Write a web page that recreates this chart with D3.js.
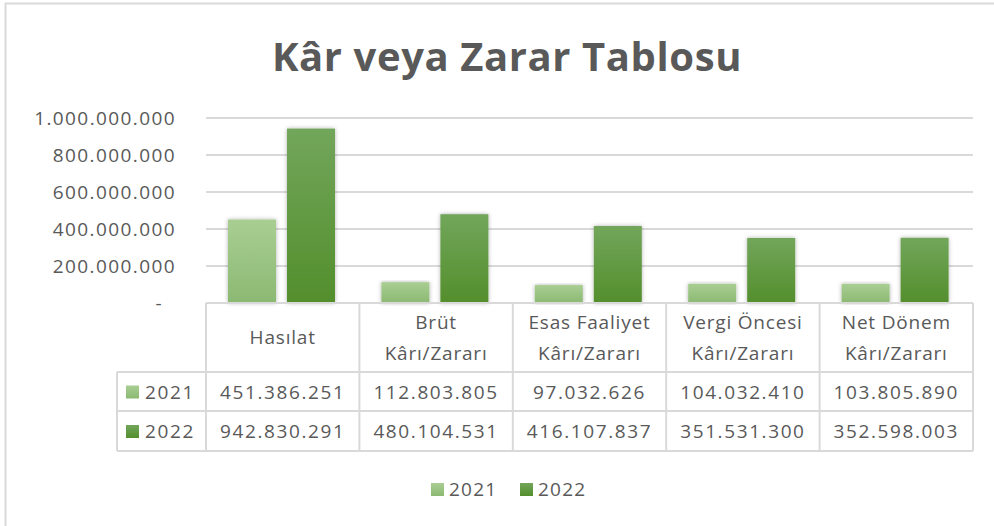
<!DOCTYPE html>
<html>
<head>
<meta charset="utf-8">
<script src="https://cdnjs.cloudflare.com/ajax/libs/d3/7.8.5/d3.min.js"></script>
<style>
  body { margin: 0; background: #fff; }
  text { font-family: "Open Sans", sans-serif; fill: #595959; }
</style>
</head>
<body>
<script>
// chart data
var categories = [["Hasılat"], ["Brüt", "Kârı/Zararı"], ["Esas Faaliyet", "Kârı/Zararı"],
                  ["Vergi Öncesi", "Kârı/Zararı"], ["Net Dönem", "Kârı/Zararı"]];
var years = ["2021", "2022"];
var values2021 = [451386251, 112803805, 97032626, 104032410, 103805890];
var values2022 = [942830291, 480104531, 416107837, 351531300, 352598003];
var yTicks = [0, 200000000, 400000000, 600000000, 800000000, 1000000000];

var w = 994, h = 526;
var plotLeft = 206, plotRight = 973, plotTop = 118, zero = 303;
var tableLeft = 117;
var rowY = [303, 372, 411, 451];

var svg = d3.select("body").append("svg")
  .attr("width", w)
  .attr("height", h);

var defs = svg.append("defs");
var g1 = defs.append("linearGradient").attr("id", "g2021").attr("x1", 0).attr("x2", 0).attr("y1", 0).attr("y2", 1);
g1.append("stop").attr("offset", "0%").attr("stop-color", "#a9ce93");
g1.append("stop").attr("offset", "100%").attr("stop-color", "#8bb972");
var g2 = defs.append("linearGradient").attr("id", "g2022").attr("x1", 0).attr("x2", 0).attr("y1", 0).attr("y2", 1);
g2.append("stop").attr("offset", "0%").attr("stop-color", "#72a65b");
g2.append("stop").attr("offset", "100%").attr("stop-color", "#538e2c");
var shadow = defs.append("filter").attr("id", "shadow").attr("x", "-20%").attr("y", "-10%").attr("width", "140%").attr("height", "120%");
shadow.append("feDropShadow").attr("dx", 0).attr("dy", 0).attr("stdDeviation", 2)
  .attr("flood-color", "#000").attr("flood-opacity", 0.3);

// outer frame
svg.append("line").attr("x1", 5).attr("x2", w).attr("y1", 3.5).attr("y2", 3.5)
  .attr("stroke", "#d9d9d9").attr("stroke-width", 2);
svg.append("line").attr("x1", 5.5).attr("x2", 5.5).attr("y1", 3).attr("y2", h)
  .attr("stroke", "#d9d9d9").attr("stroke-width", 2);

svg.append("text")
  .attr("x", 507)
  .attr("y", 71)
  .attr("text-anchor", "middle")
  .attr("font-size", "40px")
  .attr("font-weight", "bold")
  .style("letter-spacing", "0.6px")
  .text("Kâr veya Zarar Tablosu");

var xScale = d3.scaleBand()
  .domain(d3.range(categories.length))
  .range([plotLeft, plotRight]);

var yScale = d3.scaleLinear()
  .domain([0, 1000000000])
  .range([zero, plotTop]);

var fmt = function(v) {
  return d3.format(",")(v).replace(/,/g, ".");
};

// gridlines
svg.selectAll("line.grid")
  .data(yTicks.slice(1))
  .enter()
  .append("line")
  .attr("class", "grid")
  .attr("x1", plotLeft)
  .attr("x2", plotRight)
  .attr("y1", function(d) { return yScale(d); })
  .attr("y2", function(d) { return yScale(d); })
  .attr("stroke", "#d9d9d9")
  .attr("stroke-width", 2);

svg.selectAll("text.ytick")
  .data(yTicks)
  .enter()
  .append("text")
  .attr("class", "ytick")
  .attr("x", function(d) { return d == 0 ? 163 : 176; })
  .attr("y", function(d) { return yScale(d) + 7; })
  .attr("text-anchor", "end")
  .attr("font-size", "19px")
  .style("letter-spacing", "1.4px")
  .text(function(d) { return d == 0 ? "-" : fmt(d); });

// bars
var series = [values2021, values2022];
var barW = 48, barGap = 11, barOff = 22;
series.forEach(function(vals, s) {
  svg.selectAll("rect.s" + s)
    .data(vals)
    .enter()
    .append("rect")
    .attr("class", "s" + s)
    .attr("x", function(d, i) { return xScale(i) + barOff + s * (barW + barGap); })
    .attr("y", function(d) { return yScale(d); })
    .attr("width", barW)
    .attr("height", function(d) { return zero - yScale(d); })
    .attr("fill", "url(#g" + years[s] + ")")
    .attr("filter", "url(#shadow)");
});

// data table
var tbl = svg.append("g")
  .attr("stroke", "#d9d9d9")
  .attr("stroke-width", 2)
  .attr("fill", "none");
tbl.append("line").attr("x1", plotLeft).attr("x2", plotRight).attr("y1", rowY[0]).attr("y2", rowY[0]);
for (var r = 1; r < rowY.length; r++) {
  tbl.append("line").attr("x1", tableLeft).attr("x2", plotRight).attr("y1", rowY[r]).attr("y2", rowY[r]);
}
tbl.append("line").attr("x1", tableLeft).attr("x2", tableLeft).attr("y1", rowY[1]).attr("y2", rowY[3]);
for (var c = 0; c <= categories.length; c++) {
  var cx = c < categories.length ? xScale(c) : plotRight;
  tbl.append("line").attr("x1", cx).attr("x2", cx).attr("y1", rowY[0]).attr("y2", rowY[3]);
}

categories.forEach(function(lines, i) {
  var cx = xScale(i) + xScale.bandwidth() / 2;
  var t = svg.append("text")
    .attr("x", cx)
    .attr("text-anchor", "middle")
    .attr("font-size", "19px")
    .style("letter-spacing", "0.8px");
  if (lines.length == 1) {
    t.attr("y", 344).text(lines[0]);
  } else {
    t.append("tspan").attr("x", cx).attr("y", 329).text(lines[0]);
    t.append("tspan").attr("x", cx).attr("y", 360).text(lines[1]);
  }
});

series.forEach(function(vals, s) {
  var y0 = rowY[s + 1], y1 = rowY[s + 2];
  var mid = (y0 + y1) / 2;
  svg.append("rect")
    .attr("x", 126).attr("y", mid - 6).attr("width", 13).attr("height", 13)
    .attr("fill", "url(#g" + years[s] + ")");
  svg.append("text")
    .attr("x", 145).attr("y", mid + 7)
    .attr("font-size", "19px")
    .style("letter-spacing", "1.6px")
    .text(years[s]);
  svg.selectAll("text.v" + s)
    .data(vals)
    .enter()
    .append("text")
    .attr("class", "v" + s)
    .attr("x", function(d, i) { return xScale(i) + xScale.bandwidth() / 2; })
    .attr("y", mid + 7)
    .attr("text-anchor", "middle")
    .attr("font-size", "19px")
    .style("letter-spacing", "1.6px")
    .text(fmt);
});

// legend
var legendX = [431, 520];
years.forEach(function(y, s) {
  svg.append("rect")
    .attr("x", legendX[s]).attr("y", 483).attr("width", 13).attr("height", 13)
    .attr("fill", "url(#g" + y + ")");
  svg.append("text")
    .attr("x", legendX[s] + 18).attr("y", 496)
    .attr("font-size", "19px")
    .style("letter-spacing", "1.2px")
    .text(y);
});
</script>
</body>
</html>
